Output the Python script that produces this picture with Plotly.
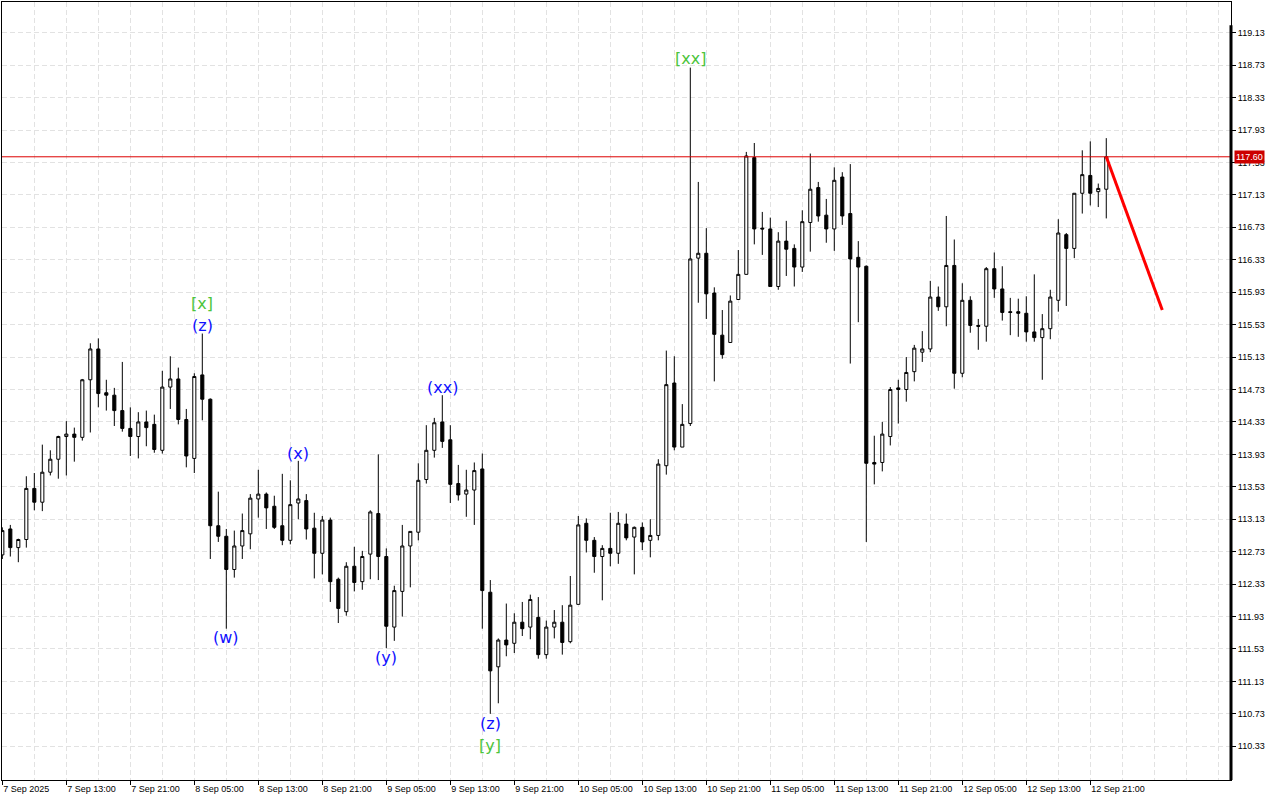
import plotly.graph_objects as go

# ---- data (hourly candles) ----
opens = [112.69,113.01,112.78,112.88,113.51,113.34,113.71,113.87,114.15,114.18,
         114.14,114.85,115.23,114.69,114.66,114.47,114.25,114.15,114.33,114.30,
         113.98,114.76,114.86,114.36,113.88,114.91,114.61,113.05,112.92,112.51,
         112.80,112.95,113.38,113.44,113.29,113.05,112.87,113.33,113.36,113.02,
         112.71,113.12,112.39,111.99,112.55,112.36,112.70,113.20,112.67,111.80,
         112.24,112.80,112.97,113.62,113.98,114.33,114.11,113.57,113.44,113.49,
         113.75,112.23,111.31,111.64,111.60,111.86,111.80,111.92,111.46,111.80,
         111.86,111.62,112.08,113.08,112.87,112.67,112.77,112.71,113.07,112.91,
         113.03,112.87,112.93,113.79,114.81,114.02,114.31,116.35,116.41,115.92,
         115.40,115.31,115.84,116.15,117.59,116.72,116.71,116.00,116.56,116.47,
         116.24,116.79,117.22,116.88,116.71,117.35,116.90,116.36,116.25,113.83,
         113.83,114.15,114.75,114.73,114.95,115.19,115.23,115.87,115.75,116.26,
         114.93,115.83,115.52,115.51,116.22,115.97,115.69,115.69,115.67,115.44,
         115.37,115.48,115.83,116.64,116.47,117.15,117.37,117.17,117.20]
highs = [113.03,113.06,112.89,113.66,113.70,114.05,113.98,114.16,114.34,114.26,
         114.86,115.30,115.36,114.85,114.75,115.07,114.51,114.45,114.47,114.42,
         114.96,115.14,115.00,114.49,114.93,115.42,114.62,113.47,113.01,112.99,
         113.20,113.44,113.74,113.46,113.42,113.69,113.61,113.85,113.44,113.21,
         113.17,113.15,112.41,112.60,112.79,112.74,113.24,113.93,112.77,112.31,
         113.06,112.98,113.82,114.29,114.38,114.66,114.29,113.80,113.74,113.83,
         113.94,112.38,111.66,112.09,111.97,112.11,112.20,112.17,111.88,112.01,
         112.07,112.43,113.17,113.14,112.91,112.81,113.21,113.22,113.20,113.04,
         113.09,113.13,113.87,115.21,115.14,114.55,118.70,117.29,116.72,115.99,
         115.71,115.89,116.45,117.66,117.77,116.92,116.85,116.67,116.81,116.52,
         116.94,117.64,117.29,117.08,117.47,117.41,117.51,116.56,116.26,114.16,
         114.33,114.76,114.85,115.13,115.28,115.45,116.07,116.00,116.87,116.58,
         116.04,115.88,115.60,116.24,116.42,116.25,115.86,115.85,115.88,116.15,
         115.66,115.96,116.83,116.66,117.15,117.68,117.79,117.27,117.83]
lows = [112.64,112.67,112.60,112.78,113.24,113.23,113.67,113.63,113.67,113.84,
        114.10,114.20,114.51,114.47,114.28,114.21,113.91,113.88,114.03,113.95,
        113.94,114.49,114.30,113.77,113.70,114.35,112.64,112.85,111.78,112.41,
        112.64,112.76,113.15,113.01,113.01,112.81,112.82,113.13,112.88,112.40,
        112.45,112.11,111.85,111.94,112.24,112.26,112.39,112.38,111.54,111.63,
        111.93,112.29,112.87,113.57,113.89,114.01,113.33,113.36,113.16,113.06,
        111.78,110.73,110.86,111.44,111.48,111.69,111.65,111.41,111.41,111.66,
        111.46,111.60,112.08,112.72,112.47,112.13,112.55,112.58,112.87,112.45,
        112.75,112.66,112.87,113.68,113.98,114.02,114.28,115.80,115.60,114.83,
        115.11,115.31,115.84,116.15,116.52,116.39,116.00,115.96,116.13,116.00,
        116.18,116.43,116.80,116.54,116.44,116.76,115.05,115.56,112.85,113.56,
        113.72,114.04,114.31,114.58,114.83,115.07,115.19,115.70,115.51,114.74,
        114.88,115.43,115.22,115.32,115.86,115.58,115.40,115.38,115.32,115.32,
        114.85,115.35,115.69,115.76,116.35,116.90,117.00,116.98,116.84]
closes = [112.99,112.78,112.88,113.51,113.34,113.71,113.87,114.15,114.18,114.14,
          114.85,115.23,114.68,114.66,114.47,114.25,114.15,114.33,114.26,113.99,
          114.76,114.86,114.36,113.91,114.89,114.61,113.05,112.92,112.51,112.80,
          112.99,113.39,113.44,113.27,113.03,112.87,113.31,113.38,113.01,112.71,
          113.12,112.36,112.03,112.55,112.35,112.67,113.22,112.67,111.81,112.25,
          112.80,112.98,113.61,113.98,114.32,114.09,113.56,113.43,113.49,113.73,
          112.25,111.26,111.64,111.58,111.86,111.78,112.14,111.46,111.80,111.86,
          111.61,112.07,113.06,112.87,112.67,112.77,112.71,113.08,112.90,113.03,
          112.85,112.93,113.81,114.79,114.02,114.30,116.34,116.41,115.91,115.41,
          115.16,115.82,116.15,117.61,116.71,116.71,116.00,116.56,116.46,116.24,
          116.80,117.20,116.87,116.71,117.31,116.87,116.34,116.24,113.82,113.81,
          114.18,114.73,114.73,114.94,115.24,115.23,115.87,115.75,116.26,114.93,
          115.83,115.52,115.51,116.22,115.97,115.68,115.68,115.67,115.44,115.37,
          115.48,115.87,116.66,116.47,117.15,117.38,117.15,117.21,117.60]

tick_labels = ["7 Sep 2025", "7 Sep 13:00", "7 Sep 21:00", "8 Sep 05:00", "8 Sep 13:00",
               "8 Sep 21:00", "9 Sep 05:00", "9 Sep 13:00", "9 Sep 21:00", "10 Sep 05:00",
               "10 Sep 13:00", "10 Sep 21:00", "11 Sep 05:00", "11 Sep 13:00", "11 Sep 21:00",
               "12 Sep 05:00", "12 Sep 13:00", "12 Sep 21:00"]
price_ticks = [110.33, 110.73, 111.13, 111.53, 111.93, 112.33, 112.73, 113.13, 113.53,
               113.93, 114.33, 114.73, 115.13, 115.53, 115.93, 116.33, 116.73, 117.13,
               117.53, 117.93, 118.33, 118.73, 119.13]
current_price = 117.60

# forecast arrow (bar index, price)
forecast_x = [138, 145]
forecast_y = [117.60, 115.71]

# wave labels: (bar index, price, text, colour group)
wave_x = [25, 25, 28, 37, 48, 55, 61, 61, 86]
wave_y = [115.79, 115.52, 111.67, 113.94, 111.43, 114.76, 110.61, 110.34, 118.81]
wave_text = ["[x]", "(z)", "(w)", "(x)", "(y)", "(xx)", "(z)", "[y]", "[xx]"]
wave_kind = ["major", "minor", "minor", "minor", "minor", "minor", "minor", "major", "major"]

x_idx = list(range(len(opens)))

fig = go.Figure()
fig.add_trace(go.Candlestick(
    x=x_idx, open=opens, high=highs, low=lows, close=closes,
    increasing=dict(line=dict(color="black", width=1), fillcolor="white"),
    decreasing=dict(line=dict(color="black", width=1), fillcolor="black"),
    showlegend=False, hoverinfo="skip"))

fig.add_trace(go.Scatter(x=forecast_x, y=forecast_y, mode="lines",
                         line=dict(color="#ff0000", width=3), showlegend=False,
                         hoverinfo="skip"))

colors = {"major": "#4cc43c", "minor": "#1010ff"}
for xx, yy, tt, kk in zip(wave_x, wave_y, wave_text, wave_kind):
    fig.add_annotation(x=xx, y=yy, text=tt, showarrow=False,
                       font=dict(family="DejaVu Sans", size=16, color=colors[kk]),
                       xanchor="center", yanchor="middle")

# current price line and label
fig.add_shape(type="line", xref="paper", x0=0, x1=1, yref="y",
              y0=current_price, y1=current_price, line=dict(color="#dd0000", width=1))
fig.add_annotation(xref="paper", x=1, y=current_price, text=f"{current_price:.2f}",
                   showarrow=False, xanchor="left", yanchor="middle", xshift=3,
                   bgcolor="#cc0000", borderpad=1,
                   font=dict(family="Liberation Sans", size=9, color="white"))
# thick right axis line
fig.add_shape(type="line", xref="paper", yref="paper", x0=1, x1=1, y0=0, y1=0.97,
              line=dict(color="black", width=3))

grid = "#e2e2e2"
fig.update_layout(
    width=1280, height=800,
    margin=dict(l=2, r=49, t=2, b=20),
    paper_bgcolor="white", plot_bgcolor="white",
    boxgap=0.45,
    font=dict(family="Liberation Sans", size=9, color="black"),
    xaxis=dict(
        range=[-0.04, 153.59], rangeslider=dict(visible=False),
        tickmode="array", tickvals=[8 * i for i in range(len(tick_labels))],
        ticktext=tick_labels, ticks="outside", ticklen=4, tickcolor="black",
        ticklabelposition="outside right",
        showgrid=True, gridcolor=grid, griddash="5px,3px", gridwidth=1,
        minor=dict(tick0=0, dtick=4, showgrid=True, gridcolor=grid,
                   griddash="5px,3px", gridwidth=1),
        showline=True, linecolor="black", linewidth=1, mirror=True,
        zeroline=False, tickfont=dict(family="Liberation Sans", size=9),
    ),
    yaxis=dict(
        side="right", range=[109.914, 119.509],
        tickmode="array", tickvals=price_ticks,
        ticktext=[f"{v:.2f}" for v in price_ticks],
        ticks="outside", ticklen=4, tickcolor="black",
        showgrid=True, gridcolor=grid, griddash="5px,3px", gridwidth=1,
        showline=True, linecolor="black", linewidth=1, mirror=True,
        zeroline=False, tickfont=dict(family="Liberation Sans", size=9),
    ),
)

fig.write_html("out.html", config={"displayModeBar": False},
               post_script="document.body.style.margin='0';")
